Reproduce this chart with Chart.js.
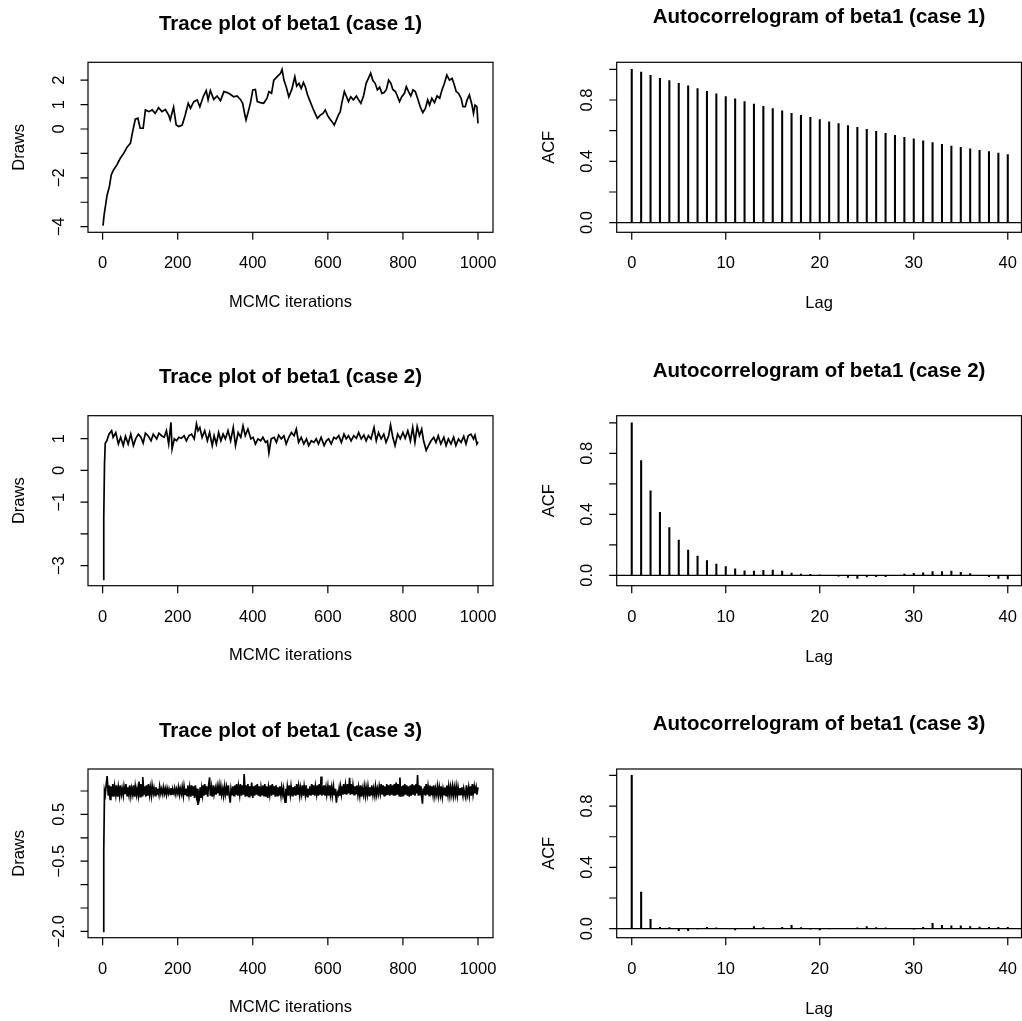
<!DOCTYPE html>
<html lang="en">
<head>
<meta charset="UTF-8">
<title>beta1 – trace plots and autocorrelograms</title>
<script src="https://cdn.jsdelivr.net/npm/chart.js"></script>
<style>
  html,body{margin:0;padding:0;background:#fff;overflow:hidden;}
  #grid{position:relative;width:1022px;height:1021px;}
  .cell{position:absolute;}
  .cell canvas{display:block;}
</style>
</head>
<body>
<div id="grid">
  <div class="cell" style="left:0;top:0"><canvas id="trace1" width="511" height="340"></canvas></div>
  <div class="cell" style="left:511px;top:0"><canvas id="acfc1" width="511" height="340"></canvas></div>
  <div class="cell" style="left:0;top:340px"><canvas id="trace2" width="511" height="340"></canvas></div>
  <div class="cell" style="left:511px;top:340px"><canvas id="acfc2" width="511" height="340"></canvas></div>
  <div class="cell" style="left:0;top:680px"><canvas id="trace3" width="511" height="341"></canvas></div>
  <div class="cell" style="left:511px;top:680px"><canvas id="acfc3" width="511" height="341"></canvas></div>
</div>

<script>
// ---- data: [iteration, draw] ----
const trace1 = [[1,-3.96],[4,-3.52],[12,-2.7],[18,-2.36],[23,-1.88],[29,-1.68],[38,-1.47],[47,-1.2],[56,-1.0],[65,-0.75],
  [74,-0.59],[80,-0.11],[87,0.4],[94,0.44],[100,0.03],[108,0.03],[114,0.78],[123,0.71],[132,0.78],[140,0.64],
  [149,0.87],[158,0.71],[167,0.8],[176,0.57],[180,0.37],[189,0.89],[196,0.16],[203,0.1],[212,0.16],[220,0.57],
  [228,1.05],[234,0.85],[243,1.12],[252,1.19],[259,0.91],[268,1.32],[276,1.57],[281,1.19],[287,1.57],[296,1.21],
  [305,1.35],[314,1.16],[323,1.53],[332,1.49],[340,1.42],[349,1.32],[358,1.35],[367,1.21],[373,1.05],[379,0.57],
  [382,0.37],[388,0.71],[394,1.08],[400,1.6],[407,1.62],[412,1.12],[420,1.08],[429,1.05],[438,1.26],[443,1.53],
  [450,1.46],[456,2.0],[465,2.14],[474,2.28],[478,2.44],[483,2.0],[489,1.73],[496,1.32],[504,1.62],[512,2.14],
  [517,1.76],[523,1.87],[529,1.66],[535,1.9],[540,1.73],[546,1.39],[553,1.12],[560,0.85],[566,0.64],[572,0.44],
  [580,0.57],[587,0.64],[593,0.78],[599,0.57],[604,0.44],[611,0.3],[617,0.16],[622,0.34],[628,0.57],[633,0.71],
  [637,1.05],[644,1.53],[649,1.35],[655,1.12],[661,1.32],[668,1.19],[676,1.35],[682,1.19],[688,1.05],[695,1.35],
  [702,1.87],[708,2.07],[714,2.28],[720,1.98],[726,1.87],[732,1.6],[738,1.71],[744,1.46],[750,1.49],[756,1.62],
  [762,2.0],[768,1.87],[773,1.62],[780,1.53],[784,1.39],[791,1.12],[797,1.32],[804,1.46],[809,1.73],[815,1.53],
  [821,1.35],[827,1.6],[833,1.53],[839,1.26],[846,0.91],[853,0.67],[860,0.85],[866,1.19],[871,0.98],[877,1.26],
  [884,1.08],[891,1.35],[898,1.26],[904,1.6],[910,1.84],[917,2.21],[924,2.0],[931,2.07],[937,1.8],[942,1.53],
  [948,1.46],[955,1.26],[960,0.91],[966,0.91],[971,1.19],[977,1.39],[984,0.98],[988,0.64],[992,0.98],[997,0.91],
  [1000,0.23]];

const trace2 = [[1,-3.43],[3,-1.5],[5,0.2],[7,0.85],[11,0.93],[17,1.14],[24,1.25],[28,1.04],[35,1.19],[42,0.83],
  [48,1.04],[55,0.78],[61,1.07],[68,0.83],[75,1.14],[82,0.78],[88,0.99],[95,1.14],[102,1.04],[108,0.86],
  [114,1.17],[121,1.09],[129,0.93],[135,1.14],[144,0.99],[150,1.17],[157,1.09],[164,1.04],[170,1.25],[176,0.83],
  [182,1.51],[185,0.67],[191,0.99],[197,0.93],[203,1.04],[210,1.01],[217,1.09],[223,0.93],[230,1.09],[237,1.14],
  [244,0.99],[250,1.46],[254,1.25],[259,1.35],[265,1.04],[272,1.25],[279,0.93],[285,1.19],[292,0.78],[297,1.09],
  [303,0.83],[309,1.19],[315,0.93],[321,1.14],[327,0.99],[334,1.25],[341,0.93],[348,1.35],[354,0.78],[361,1.19],
  [368,1.04],[374,1.4],[380,1.09],[387,1.3],[395,0.99],[401,1.04],[407,0.83],[414,0.99],[421,0.93],[427,1.04],
  [434,0.88],[439,0.93],[443,0.55],[449,0.99],[457,1.04],[463,0.88],[469,1.11],[476,0.99],[483,1.09],[489,0.83],
  [496,1.04],[503,1.19],[510,1.09],[516,1.3],[522,0.88],[529,1.04],[536,0.83],[543,0.99],[549,0.78],[556,0.93],
  [563,0.88],[569,0.99],[575,0.83],[582,1.04],[590,0.78],[596,0.93],[602,0.99],[609,0.83],[616,1.04],[622,0.99],
  [629,1.09],[636,0.88],[643,1.14],[649,0.99],[655,1.09],[662,0.93],[669,1.09],[676,1.01],[682,1.19],[689,0.99],
  [696,1.11],[702,0.93],[708,1.09],[715,0.99],[723,1.35],[729,0.93],[735,1.19],[742,0.99],[749,1.14],[755,0.88],
  [762,1.09],[767,1.43],[773,1.04],[779,0.78],[786,1.14],[793,0.99],[800,1.19],[806,1.01],[813,1.25],[820,0.93],
  [826,1.35],[832,0.88],[838,1.38],[844,1.09],[850,1.3],[855,0.93],[862,0.63],[868,0.78],[875,0.93],[882,1.04],
  [888,0.88],[894,1.09],[901,0.83],[909,1.04],[915,0.78],[921,0.99],[928,0.83],[935,1.04],[941,0.78],[948,0.99],
  [955,0.88],[962,1.07],[968,0.83],[974,1.09],[981,1.14],[988,0.99],[992,1.11],[997,0.83],[1000,0.9]];

const trace3 = [[1,-2.0],[3,-0.3],[5,1.0],[7,0.92],[10,1.18],[12,1.32],[15,0.9],[17,1.12],[20,0.82],[22,1.1],
  [25,0.9],[27,1.15],[30,0.88],[32,1.1],[35,0.92],[37,1.12],[40,0.88],[42,1.08],[45,0.9],[47,1.12],
  [50,0.93],[52,1.05],[55,0.9],[57,1.1],[60,0.95],[62,1.15],[65,0.9],[67,1.08],[70,0.92],[72,1.12],
  [75,0.9],[77,1.06],[80,0.93],[82,1.12],[85,0.88],[87,1.1],[90,0.92],[92,1.05],[95,0.9],[97,1.2],
  [100,0.88],[102,1.15],[105,0.9],[107,1.3],[110,0.92],[112,1.1],[115,0.88],[117,1.12],[120,0.9],[122,1.15],
  [125,0.92],[127,1.08],[130,0.9],[132,1.12],[135,0.95],[137,1.06],[140,0.9],[142,1.08],[145,0.94],[147,1.05],
  [150,0.92],[152,1.1],[155,0.95],[157,1.04],[160,0.93],[162,1.08],[165,0.95],[167,1.05],[170,0.92],[172,1.06],
  [175,0.95],[177,1.04],[180,0.93],[182,1.06],[185,0.94],[187,1.03],[190,0.95],[192,1.06],[195,0.93],[197,1.04],
  [200,0.95],[202,1.08],[205,0.92],[207,1.05],[210,0.94],[212,1.08],[215,0.9],[217,1.1],[220,0.93],[222,1.05],
  [225,0.9],[227,1.12],[230,0.92],[232,1.08],[235,0.88],[237,1.12],[240,0.9],[242,1.1],[245,0.85],[247,1.12],
  [250,0.9],[252,1.05],[254,0.7],[256,1.0],[258,0.88],[260,1.08],[262,0.85],[264,1.05],[266,0.92],[268,1.12],
  [270,0.9],[272,1.15],[275,0.92],[277,1.1],[280,0.88],[282,1.1],[285,1.29],[287,0.9],[290,1.08],[292,0.88],
  [295,1.12],[297,0.93],[300,1.06],[302,0.92],[305,1.1],[307,0.95],[310,1.12],[312,0.9],[315,1.1],[317,0.92],
  [320,1.05],[322,0.9],[325,1.1],[327,0.93],[330,1.08],[332,0.9],[335,1.12],[337,0.92],[340,0.75],[342,1.05],
  [345,0.92],[347,1.1],[350,0.9],[352,1.12],[355,0.92],[357,1.15],[360,0.9],[362,1.1],[365,0.92],[367,1.15],
  [370,0.9],[372,1.12],[375,0.92],[377,1.36],[380,0.88],[382,1.12],[385,0.9],[387,1.15],[390,0.88],[392,1.1],
  [395,0.9],[397,1.18],[400,0.85],[402,1.1],[405,0.9],[407,1.12],[410,0.92],[412,1.15],[415,0.9],[417,1.1],
  [420,0.88],[422,1.08],[425,0.92],[427,1.12],[430,0.9],[432,1.15],[435,0.88],[437,1.1],[440,0.85],[442,1.08],
  [445,0.92],[447,1.12],[450,0.9],[452,1.15],[455,0.92],[457,1.1],[460,0.88],[462,1.12],[465,0.9],[467,1.08],
  [470,0.92],[472,1.1],[475,0.9],[477,1.08],[480,0.92],[482,1.05],[484,0.9],[486,0.76],[488,1.05],[490,0.92],
  [492,1.1],[495,0.9],[497,1.12],[500,0.92],[502,1.1],[505,0.9],[507,1.08],[510,0.93],[512,1.1],[515,0.9],
  [517,1.15],[520,0.92],[522,1.1],[525,0.9],[527,1.08],[530,0.93],[532,1.12],[535,0.9],[537,1.1],[540,0.92],
  [542,1.12],[545,0.88],[547,1.05],[550,0.93],[552,1.1],[555,0.9],[557,1.15],[560,0.92],[562,1.12],[565,0.9],
  [567,1.1],[570,0.93],[572,1.12],[575,0.9],[577,1.15],[580,0.92],[582,1.31],[584,0.9],[586,1.1],[588,0.92],
  [590,1.12],[592,0.9],[595,1.08],[597,0.92],[600,1.1],[602,0.9],[605,1.12],[607,0.92],[610,1.08],[612,0.9],
  [615,1.1],[617,0.92],[619,1.05],[621,0.9],[623,0.75],[625,0.98],[628,0.92],[630,1.05],[632,0.9],[634,1.08],
  [636,0.94],[638,1.1],[640,0.92],[642,1.15],[645,0.93],[647,1.12],[650,0.92],[652,1.15],[655,0.95],[658,1.28],
  [660,0.92],[662,1.15],[665,0.93],[667,1.12],[670,0.92],[672,1.1],[675,0.95],[677,1.12],[680,0.92],[682,1.08],
  [685,0.9],[687,1.12],[690,0.88],[692,1.05],[695,0.92],[697,1.1],[700,0.9],[702,1.08],[705,0.92],[707,1.1],
  [710,0.9],[712,1.08],[715,0.93],[717,1.12],[720,0.92],[722,1.05],[725,0.9],[727,1.1],[730,0.92],[732,1.05],
  [735,0.93],[737,1.1],[740,0.95],[742,1.15],[745,0.92],[747,1.12],[750,0.9],[752,1.1],[755,0.93],[757,1.15],
  [760,0.92],[762,1.12],[765,0.9],[767,1.15],[770,0.92],[772,1.12],[775,0.9],[777,1.15],[780,0.9],[782,1.18],
  [785,0.92],[787,1.15],[790,0.9],[792,1.29],[794,0.88],[796,1.1],[798,0.9],[800,1.12],[802,0.9],[805,1.15],
  [807,0.92],[810,1.12],[812,0.9],[815,1.1],[817,0.88],[820,1.12],[822,0.9],[825,1.15],[827,0.92],[830,1.12],
  [832,0.9],[835,1.15],[837,0.95],[839,1.34],[841,0.9],[844,1.12],[846,0.92],[848,1.1],[850,0.88],[852,0.73],
  [854,1.05],[856,0.92],[858,1.1],[860,0.9],[862,1.15],[865,0.92],[867,1.1],[870,0.9],[872,1.12],[875,0.93],
  [877,1.1],[880,0.92],[882,1.12],[885,0.9],[887,1.05],[890,0.92],[892,1.1],[895,0.9],[897,1.08],[900,0.92],
  [902,1.1],[905,0.88],[907,1.05],[910,0.92],[912,1.08],[915,0.9],[917,1.12],[920,0.92],[922,1.1],[925,0.9],
  [927,1.08],[930,0.92],[932,1.1],[935,0.9],[937,1.08],[940,0.92],[942,1.1],[945,0.9],[947,1.08],[950,0.92],
  [952,1.06],[955,0.93],[957,1.08],[960,0.9],[962,1.05],[965,0.92],[967,0.86],[969,1.12],[972,0.92],[975,1.08],
  [977,0.9],[980,1.1],[982,0.9],[985,1.15],[987,0.93],[990,1.1],[992,0.95],[995,1.08],[997,0.92],[1000,1.08]];

// autocorrelations at lags 0..40
const lags = [0,1,2,3,4,5,6,7,8,9,10,11,12,13,14,15,16,17,18,19,20,21,22,23,24,25,26,27,28,29,30,31,32,33,34,35,36,37,38,39,40];
const acf1 = [1.0,0.983,0.961,0.942,0.926,0.909,0.892,0.874,0.857,0.84,0.822,0.807,0.789,0.774,0.759,0.744,0.729,0.713,0.7,0.687,
  0.672,0.657,0.646,0.633,0.622,0.609,0.596,0.583,0.57,0.557,0.546,0.533,0.522,0.511,0.5,0.492,0.481,0.472,0.463,0.453,0.444];
const acf2 = [1.0,0.752,0.555,0.413,0.313,0.232,0.166,0.127,0.097,0.074,0.057,0.042,0.03,0.028,0.033,0.035,0.028,0.015,0.008,0.006,
  0.004,0,-0.005,-0.013,-0.02,-0.011,-0.009,-0.009,0,0.008,0.013,0.017,0.024,0.024,0.028,0.019,0.011,0,-0.009,-0.02,-0.024];
const acf3 = [1.0,0.239,0.061,0.009,0.007,-0.013,-0.013,-0.002,0.009,0.005,0.002,-0.008,0.002,0.013,0.007,0.002,0.009,0.022,0.007,-0.004,
  -0.008,-0.002,0,0.002,0.005,0.013,0.007,0.005,0.002,0.002,-0.004,0.009,0.035,0.022,0.018,0.018,0.013,0.011,0.009,0.009,0.009];

// axis ticks and their printed labels ('' = tick without label, as R drops overlapping ones)
const iterTicks = [0,200,400,600,800,1000];
const lagTicks = [0,10,20,30,40];
const draws1Ticks = [-4,-3,-2,-1,0,1,2],          draws1Labels = ['\u22124','','\u22122','','0','1','2'];
const draws2Ticks = [-3,-2,-1,0,1],               draws2Labels = ['\u22123','','\u22121','0','1'];
const draws3Ticks = [-2,-1.5,-1,-0.5,0,0.5,1],    draws3Labels = ['\u22122.0','','','\u22120.5','','0.5',''];
const acfTicks = [0,0.2,0.4,0.6,0.8,1.0],         acfLabels = ['0.0','','0.4','','0.8',''];

const FONT = '"Liberation Sans", Arial, Helvetica, sans-serif';

// R-style frame: box, outside ticks, rotated y labels, titles
const rFrame = {
  id: 'rFrame',
  afterDraw(chart, args, o) {
    const {ctx, chartArea: a, scales: {x, y}} = chart;
    ctx.save();
    ctx.strokeStyle = '#000'; ctx.fillStyle = '#000'; ctx.lineWidth = 1.2;
    if (o.zeroLine) {
      const py = y.getPixelForValue(0);
      ctx.beginPath(); ctx.moveTo(a.left, py); ctx.lineTo(a.right, py); ctx.stroke();
    }
    ctx.strokeRect(a.left, a.top, a.right - a.left, a.bottom - a.top);
    ctx.beginPath();
    o.xTicks.forEach(v => { const px = x.getPixelForValue(v); ctx.moveTo(px, a.bottom); ctx.lineTo(px, a.bottom + 7.5); });
    o.yTicks.forEach(v => { const py = y.getPixelForValue(v); ctx.moveTo(a.left, py); ctx.lineTo(a.left - 7.5, py); });
    ctx.stroke();

    ctx.font = '16.5px ' + FONT;
    ctx.textAlign = 'center'; ctx.textBaseline = 'alphabetic';
    o.xTicks.forEach(v => ctx.fillText(String(v), x.getPixelForValue(v), a.bottom + 36));
    o.yTicks.forEach((v, i) => {
      if (!o.yLabels[i]) return;
      ctx.save(); ctx.translate(a.left - 24.5, y.getPixelForValue(v)); ctx.rotate(-Math.PI / 2);
      ctx.fillText(o.yLabels[i], 0, 0); ctx.restore();
    });
    ctx.fillText(o.xTitle, (a.left + a.right) / 2, a.bottom + o.xTitleGap);
    ctx.save(); ctx.translate(a.left - o.yTitleGap, (a.top + a.bottom) / 2); ctx.rotate(-Math.PI / 2);
    ctx.fillText(o.yTitle, 0, 0); ctx.restore();

    ctx.font = 'bold 20.5px ' + FONT;
    ctx.fillText(o.title, (a.left + a.right) / 2, a.top - o.titleGap);
    ctx.restore();
  }
};

const rowPad = [{top: 62.3, bottom: 107.7}, {top: 75.7, bottom: 94.3}, {top: 89, bottom: 83.3}];

function tracePlot(id, row, pts, yMin, yMax, yTicks, yLabels, n) {
  new Chart(document.getElementById(id), {
    type: 'line',
    data: {datasets: [{data: pts.map(p => ({x: p[0], y: p[1]})), borderColor: '#000', borderWidth: 1.7,
      pointRadius: 0, tension: 0, fill: false}]},
    options: {
      responsive: false, animation: false, events: [],
      layout: {padding: {left: 88, right: 18, top: rowPad[row].top, bottom: rowPad[row].bottom}},
      scales: {
        x: {type: 'linear', display: false, min: -38.96, max: 1039.96, bounds: 'data'},
        y: {type: 'linear', display: false, min: yMin, max: yMax, bounds: 'data'}
      },
      plugins: {legend: {display: false}, tooltip: {enabled: false},
        rFrame: {title: 'Trace plot of beta1 (case ' + n + ')', xTitle: 'MCMC iterations', yTitle: 'Draws',
          xTicks: iterTicks, yTicks: yTicks, yLabels: yLabels, titleGap: 32.3, xTitleGap: 74.5, yTitleGap: 64}}
    },
    plugins: [rFrame]
  });
}

function acfPlot(id, row, vals, yMin, yMax, n) {
  new Chart(document.getElementById(id), {
    type: 'bar',
    data: {datasets: [{data: lags.map((l, i) => ({x: l, y: vals[i]})), backgroundColor: '#000',
      barThickness: 1.4, borderWidth: 0}]},
    options: {
      responsive: false, animation: false, events: [],
      layout: {padding: {left: 105.7, right: 0.5, top: rowPad[row].top, bottom: rowPad[row].bottom}},
      scales: {
        x: {type: 'linear', display: false, offset: false, min: -1.6, max: 41.46, bounds: 'data'},
        y: {type: 'linear', display: false, min: yMin, max: yMax, bounds: 'data'}
      },
      plugins: {legend: {display: false}, tooltip: {enabled: false},
        rFrame: {title: 'Autocorrelogram of beta1 (case ' + n + ')', xTitle: 'Lag', yTitle: 'ACF', zeroLine: true,
          xTicks: lagTicks, yTicks: acfTicks, yLabels: acfLabels, titleGap: 39, xTitleGap: 76, yTitleGap: 62.5}}
    },
    plugins: [rFrame]
  });
}

tracePlot('trace1', 0, trace1, -4.23, 2.73, draws1Ticks, draws1Labels, 1);
tracePlot('trace2', 1, trace2, -3.63, 1.72, draws2Ticks, draws2Labels, 2);
tracePlot('trace3', 2, trace3, -2.134, 1.47, draws3Ticks, draws3Labels, 3);
acfPlot('acfc1', 0, acf1, -0.063, 1.046, 1);
acfPlot('acfc2', 1, acf2, -0.068, 1.047, 2);
acfPlot('acfc3', 2, acf3, -0.059, 1.042, 3);
</script>
</body>
</html>
